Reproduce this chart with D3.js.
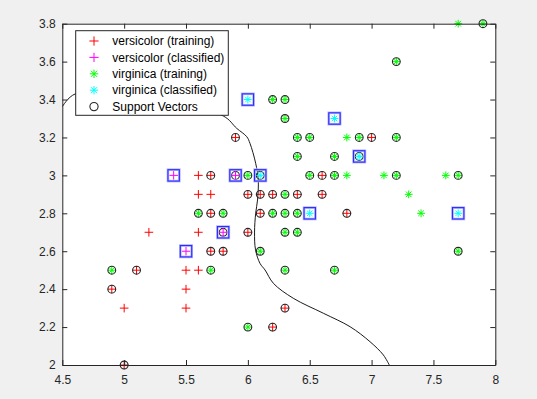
<!DOCTYPE html>
<html>
<head>
<meta charset="utf-8">
<script src="https://cdn.jsdelivr.net/npm/d3@7"></script>
<style>
    body { margin: 0; background: #f0f0f0; }
    text { font-family: "Liberation Sans", Arial, sans-serif; }
</style>
</head>
<body>
<svg id="canvas"></svg>
<script>
// sepal length / sepal width
let versicolorTrain = [
    [5.7,3.0],[6.0,2.9],[6.1,2.9],[6.2,2.9],[6.4,2.9],[6.6,2.9],[6.6,3.0],[7.0,3.2],
    [5.9,3.2],[5.7,2.8],[6.1,2.8],[6.8,2.8],[6.0,2.7],[5.7,2.6],[5.8,2.6],[5.1,2.5],
    [4.9,2.4],[6.3,2.3],[6.2,2.2],[5.0,2.0],
    [5.6,3.0],[5.6,2.9],[5.7,2.9],[5.2,2.7],[5.6,2.7],[5.5,2.5],[5.6,2.5],[5.5,2.4],
    [5.0,2.3],[5.5,2.3]
]
let virginicaTrain = [
    [7.9,3.8],[7.2,3.6],[6.2,3.4],[6.3,3.4],[6.3,3.3],[6.4,3.2],[6.5,3.2],[6.9,3.2],
    [7.2,3.2],[6.4,3.1],[6.7,3.1],[6.0,3.0],[6.5,3.0],[6.7,3.0],[7.2,3.0],[7.7,3.0],
    [6.3,2.9],[5.6,2.8],[5.8,2.8],[6.2,2.8],[6.3,2.8],[6.4,2.8],[6.3,2.7],[6.4,2.7],
    [6.1,2.6],[7.7,2.6],[4.9,2.5],[5.7,2.5],[6.3,2.5],[6.7,2.5],[6.0,2.2],
    [7.7,3.8],[6.8,3.2],[6.8,3.0],[7.1,3.0],[7.6,3.0],[7.3,2.9],[7.4,2.8]
]
let versicolorClassified = [[5.4,3.0],[5.9,3.0],[5.8,2.7],[5.5,2.6]]
let virginicaClassified = [[6.0,3.4],[6.7,3.3],[6.9,3.1],[6.1,3.0],[6.5,2.8],[7.7,2.8]]
let supportVectors = [
    [5.7,3.0],[6.0,2.9],[6.1,2.9],[6.2,2.9],[6.4,2.9],[6.6,2.9],[6.6,3.0],[7.0,3.2],
    [5.9,3.2],[5.7,2.8],[6.1,2.8],[6.8,2.8],[6.0,2.7],[5.7,2.6],[5.8,2.6],[5.1,2.5],
    [4.9,2.4],[6.3,2.3],[6.2,2.2],[5.0,2.0],
    [7.9,3.8],[7.2,3.6],[6.2,3.4],[6.3,3.4],[6.3,3.3],[6.4,3.2],[6.5,3.2],[6.9,3.2],
    [7.2,3.2],[6.4,3.1],[6.7,3.1],[6.0,3.0],[6.5,3.0],[6.7,3.0],[7.2,3.0],[7.7,3.0],
    [6.3,2.9],[5.6,2.8],[5.8,2.8],[6.2,2.8],[6.3,2.8],[6.4,2.8],[6.3,2.7],[6.4,2.7],
    [6.1,2.6],[7.7,2.6],[4.9,2.5],[5.7,2.5],[6.3,2.5],[6.7,2.5],[6.0,2.2],
    [5.9,3.0],[5.8,2.7],[6.9,3.1],[6.1,3.0]
]
// test points get a blue square
let testPoints = versicolorClassified.concat(virginicaClassified)
// decision boundary (contour), traced
let boundary = [
    [4.5,3.362],[4.603,3.429],[5.209,3.398],[5.802,3.313],[5.910,3.248],[5.991,3.204],
    [6.017,3.169],[6.063,3.064],[6.084,2.976],[6.078,2.870],[6.063,2.800],[6.054,2.701],
    [6.062,2.607],[6.098,2.536],[6.139,2.501],[6.206,2.431],[6.367,2.352],[6.610,2.273],
    [6.826,2.202],[6.987,2.123],[7.095,2.053],[7.143,2.0]
]
let legendLabels = ['versicolor (training)', 'versicolor (classified)', 'virginica (training)',
    'virginica (classified)', 'Support Vectors']
let xTicks = [4.5, 5, 5.5, 6, 6.5, 7, 7.5, 8]
let yTicks = [2, 2.2, 2.4, 2.6, 2.8, 3, 3.2, 3.4, 3.6, 3.8]

let width = 537, height = 399
let axLeft = 62.3, axRight = 495.3, axTop = 23.7, axBottom = 365

let svg = d3.select('#canvas')
    .attr('width', width)
    .attr('height', height)

svg.append('rect').attr('width', width).attr('height', height).attr('fill', '#f0f0f0')

let x = d3.scaleLinear().domain([4.5, 8]).range([axLeft, axRight])
let y = d3.scaleLinear().domain([2, 3.8]).range([axBottom, axTop])

svg.append('rect')
    .attr('x', axLeft).attr('y', axTop)
    .attr('width', axRight - axLeft).attr('height', axBottom - axTop)
    .attr('fill', 'white')

svg.append('clipPath').attr('id', 'clip')
    .append('rect')
    .attr('x', axLeft).attr('y', axTop)
    .attr('width', axRight - axLeft).attr('height', axBottom - axTop)

function plusPath(cx, cy, s) {
    return 'M' + (cx - s) + ',' + cy + 'H' + (cx + s) + 'M' + cx + ',' + (cy - s) + 'V' + (cy + s)
}
function starPath(cx, cy, s) {
    let d = s * 0.72
    return plusPath(cx, cy, s) +
        'M' + (cx - d) + ',' + (cy - d) + 'L' + (cx + d) + ',' + (cy + d) +
        'M' + (cx - d) + ',' + (cy + d) + 'L' + (cx + d) + ',' + (cy - d)
}

let plot = svg.append('g')

plot.selectAll('.vtrain').data(versicolorTrain).enter()
    .append('path')
    .attr('d', d => plusPath(x(d[0]), y(d[1]), 4.3))
    .attr('stroke', '#ff0000').attr('stroke-width', 1).attr('fill', 'none')

plot.selectAll('.gtrain').data(virginicaTrain).enter()
    .append('path')
    .attr('d', d => starPath(x(d[0]), y(d[1]), 3.9))
    .attr('stroke', '#00ff00').attr('stroke-width', 1).attr('fill', 'none')

plot.selectAll('.sv').data(supportVectors).enter()
    .append('circle')
    .attr('cx', d => x(d[0])).attr('cy', d => y(d[1]))
    .attr('r', 3.9)
    .attr('stroke', '#262626').attr('stroke-width', 1.1).attr('fill', 'none')

plot.append('path')
    .datum(boundary)
    .attr('clip-path', 'url(#clip)')
    .attr('d', d3.line().x(d => x(d[0])).y(d => y(d[1])).curve(d3.curveCatmullRom))
    .attr('stroke', '#1a1a1a').attr('stroke-width', 1).attr('fill', 'none')

plot.selectAll('.vclass').data(versicolorClassified).enter()
    .append('path')
    .attr('d', d => plusPath(x(d[0]), y(d[1]), 4.3))
    .attr('stroke', '#ff00ff').attr('stroke-width', 1).attr('fill', 'none')

plot.selectAll('.gclass').data(virginicaClassified).enter()
    .append('path')
    .attr('d', d => starPath(x(d[0]), y(d[1]), 3.9))
    .attr('stroke', '#00ffff').attr('stroke-width', 1).attr('fill', 'none')

// squares: soft halo then the blue edge
plot.selectAll('.halo').data(testPoints).enter()
    .append('rect')
    .attr('x', d => x(d[0]) - 5.7).attr('y', d => y(d[1]) - 5.7)
    .attr('width', 11.4).attr('height', 11.4)
    .attr('stroke', '#b4b4ff').attr('stroke-width', 2.6).attr('fill', 'none')
plot.selectAll('.sq').data(testPoints).enter()
    .append('rect')
    .attr('x', d => x(d[0]) - 5.7).attr('y', d => y(d[1]) - 5.7)
    .attr('width', 11.4).attr('height', 11.4)
    .attr('stroke', '#2a2aff').attr('stroke-width', 1.1).attr('fill', 'none')

// axes, ticks inward on all four sides
let fmt = d => String(d)
let axes = [
    [d3.axisBottom(x).tickValues(xTicks).tickFormat(fmt).tickPadding(10), axBottom, 0],
    [d3.axisTop(x).tickValues(xTicks).tickFormat(''), axTop, 0],
    [d3.axisLeft(y).tickValues(yTicks).tickFormat(fmt).tickPadding(6.5), 0, axLeft],
    [d3.axisRight(y).tickValues(yTicks).tickFormat(''), 0, axRight]
]
axes.forEach(a => {
    let g = svg.append('g')
        .attr('transform', 'translate(' + a[2] + ',' + a[1] + ')')
        .call(a[0].tickSizeInner(-5).tickSizeOuter(0))
    g.select('.domain').attr('stroke', '#262626')
    g.selectAll('.tick line').attr('stroke', '#262626')
    g.selectAll('.tick text')
        .attr('fill', '#262626')
        .style('font-size', '12px')
        .style('font-family', '"Liberation Sans", Arial, sans-serif')
})

// legend
let legend = svg.append('g')
legend.append('rect')
    .attr('x', 75.7).attr('y', 30.7)
    .attr('width', 152.6).attr('height', 84.6)
    .attr('fill', 'white').attr('stroke', '#262626').attr('stroke-width', 1)

let legendColors = ['#ff0000', '#ff00ff', '#00ff00', '#00ffff', '#262626']
legendLabels.forEach((label, i) => {
    let ly = 41 + i * 16.4
    if (i < 2) {
        legend.append('path').attr('d', plusPath(94, ly, 4.6))
            .attr('stroke', legendColors[i]).attr('fill', 'none')
    } else if (i < 4) {
        legend.append('path').attr('d', starPath(94, ly, 4.2))
            .attr('stroke', legendColors[i]).attr('fill', 'none')
    } else {
        legend.append('circle').attr('cx', 94).attr('cy', ly).attr('r', 4.1)
            .attr('stroke', legendColors[i]).attr('stroke-width', 1.1).attr('fill', 'none')
    }
    legend.append('text')
        .attr('x', 112.3).attr('y', ly)
        .attr('dy', '0.35em')
        .style('font-size', '12px')
        .attr('fill', '#000')
        .text(label)
})
</script>
</body>
</html>
